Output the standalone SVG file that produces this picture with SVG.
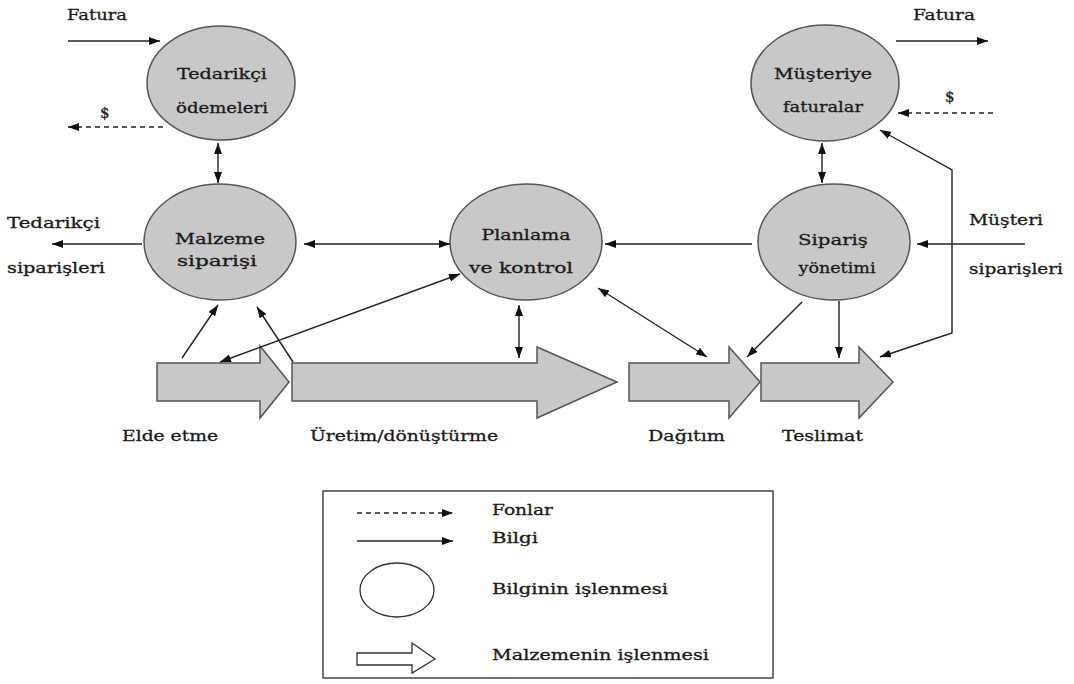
<svg xmlns="http://www.w3.org/2000/svg" width="1074" height="684" viewBox="0 0 1074 684">
<defs>
<marker id="ah" viewBox="0 0 11 8" refX="11" refY="4" markerWidth="11" markerHeight="8" markerUnits="userSpaceOnUse" orient="auto-start-reverse">
<path d="M0,0 L11,4 L0,8 Z" fill="#111"/>
</marker>
<style>
.n{fill:#c8c8c8;stroke:#555;stroke-width:1.5}
.m{fill:#c8c8c8;stroke:#555;stroke-width:1.5}
.t{font-family:"DejaVu Serif","Liberation Serif",serif;font-size:15px;fill:#1a1a1a;stroke:#1a1a1a;stroke-width:0.3}
.c{text-anchor:middle}
.l{fill:none;stroke:#222;stroke-width:1.4}
.a{marker-end:url(#ah)}
.b{marker-start:url(#ah);marker-end:url(#ah)}
.d{stroke-dasharray:5,4}
</style>
</defs>
<rect width="1074" height="684" fill="#fff"/>

<g id="tedarikci-odemeleri">
<ellipse class="n" cx="221" cy="83" rx="74" ry="57"/>
<text class="t c" x="222" y="79" textLength="90" lengthAdjust="spacingAndGlyphs">Tedarikçi</text>
<text class="t c" x="222" y="113" textLength="92" lengthAdjust="spacingAndGlyphs">ödemeleri</text>
</g>
<g id="musteriye-faturalar">
<ellipse class="n" cx="825" cy="83" rx="74" ry="58"/>
<text class="t c" x="823" y="79" textLength="98" lengthAdjust="spacingAndGlyphs">Müşteriye</text>
<text class="t c" x="823" y="112" textLength="80" lengthAdjust="spacingAndGlyphs">faturalar</text>
</g>
<g id="malzeme-siparisi">
<ellipse class="n" cx="220" cy="242" rx="76" ry="58"/>
<text class="t c" x="220" y="244" textLength="90" lengthAdjust="spacingAndGlyphs">Malzeme</text>
<text class="t c" x="217" y="266" textLength="80" lengthAdjust="spacingAndGlyphs">siparişi</text>
</g>
<g id="planlama">
<ellipse class="n" cx="526" cy="242" rx="76" ry="58"/>
<text class="t c" x="526" y="240" textLength="89" lengthAdjust="spacingAndGlyphs">Planlama</text>
<text class="t c" x="521" y="273" textLength="104" lengthAdjust="spacingAndGlyphs">ve kontrol</text>
</g>
<g id="siparis-yonetimi">
<ellipse class="n" cx="834" cy="242" rx="76" ry="58"/>
<text class="t c" x="833" y="245" textLength="70" lengthAdjust="spacingAndGlyphs">Sipariş</text>
<text class="t c" x="837" y="273" textLength="77" lengthAdjust="spacingAndGlyphs">yönetimi</text>
</g>

<g id="elde-etme">
<path class="m" d="M157,363 H260 V346 L289,382 L260,418 V401 H157 Z"/>
<text class="t" x="122" y="441" textLength="96" lengthAdjust="spacingAndGlyphs">Elde etme</text>
</g>
<g id="uretim">
<path class="m" d="M292,363 H537 V347 L617,382 L537,418 V401 H292 Z"/>
<text class="t" x="310" y="441" textLength="188" lengthAdjust="spacingAndGlyphs">Üretim/dönüştürme</text>
</g>
<g id="dagitim">
<path class="m" d="M629,363 H729 V347 L760,382 L729,418 V401 H629 Z"/>
<text class="t" x="648" y="441" textLength="77" lengthAdjust="spacingAndGlyphs">Dağıtım</text>
</g>
<g id="teslimat">
<path class="m" d="M761,363 H859 V347 L893,382 L859,418 V401 H761 Z"/>
<text class="t" x="782" y="441" textLength="81" lengthAdjust="spacingAndGlyphs">Teslimat</text>
</g>

<g id="labels">
<text class="t" x="67" y="20" textLength="60" lengthAdjust="spacingAndGlyphs">Fatura</text>
<text class="t" x="100" y="118">$</text>
<text class="t" x="913" y="20" textLength="62" lengthAdjust="spacingAndGlyphs">Fatura</text>
<text class="t" x="945" y="102">$</text>
<text class="t" x="7" y="228" textLength="93" lengthAdjust="spacingAndGlyphs">Tedarikçi</text>
<text class="t" x="7" y="273" textLength="98" lengthAdjust="spacingAndGlyphs">siparişleri</text>
<text class="t" x="969" y="225" textLength="74" lengthAdjust="spacingAndGlyphs">Müşteri</text>
<text class="t" x="969" y="274" textLength="94" lengthAdjust="spacingAndGlyphs">siparişleri</text>
</g>

<g id="connectors">
<line class="l a" x1="68" y1="41" x2="160" y2="41"/>
<line class="l a d" x1="163" y1="127" x2="68" y2="127"/>
<line class="l b" x1="218" y1="143" x2="218" y2="183"/>
<line class="l a" x1="896" y1="41" x2="988" y2="41"/>
<line class="l a d" x1="993" y1="113" x2="898" y2="113"/>
<line class="l b" x1="822" y1="143" x2="822" y2="183"/>
<polyline class="l b" points="880,130 952,170 952,333 880,357"/>
<line class="l a" x1="142" y1="244" x2="52" y2="244"/>
<line class="l b" x1="304" y1="244" x2="450" y2="244"/>
<line class="l a" x1="752" y1="244" x2="605" y2="244"/>
<line class="l a" x1="1025" y1="244" x2="917" y2="244"/>
<line class="l a" x1="182" y1="358" x2="218" y2="305"/>
<line class="l a" x1="293" y1="362" x2="257" y2="307"/>
<line class="l b" x1="220" y1="362" x2="460" y2="274"/>
<line class="l b" x1="519" y1="305" x2="519" y2="358"/>
<line class="l b" x1="598" y1="288" x2="707" y2="357"/>
<line class="l a" x1="802" y1="302" x2="747" y2="357"/>
<line class="l a" x1="839" y1="301" x2="839" y2="358"/>
</g>

<g id="legend">
<rect x="323" y="491" width="450" height="187" fill="#fff" stroke="#444" stroke-width="1.5"/>
<line class="l a d" x1="357" y1="513" x2="453" y2="513"/>
<text class="t" x="492" y="515" textLength="61" lengthAdjust="spacingAndGlyphs">Fonlar</text>
<line class="l a" x1="357" y1="541" x2="453" y2="541"/>
<text class="t" x="492" y="543" textLength="46" lengthAdjust="spacingAndGlyphs">Bilgi</text>
<ellipse cx="397" cy="590" rx="37" ry="27" fill="#fff" stroke="#333" stroke-width="1.3"/>
<text class="t" x="492" y="594" textLength="176" lengthAdjust="spacingAndGlyphs">Bilginin işlenmesi</text>
<path d="M357,653 H412 V643 L435,659 L412,673 V665 H357 Z" fill="#fff" stroke="#333" stroke-width="1.3"/>
<text class="t" x="492" y="660" textLength="217" lengthAdjust="spacingAndGlyphs">Malzemenin işlenmesi</text>
</g>
</svg>
